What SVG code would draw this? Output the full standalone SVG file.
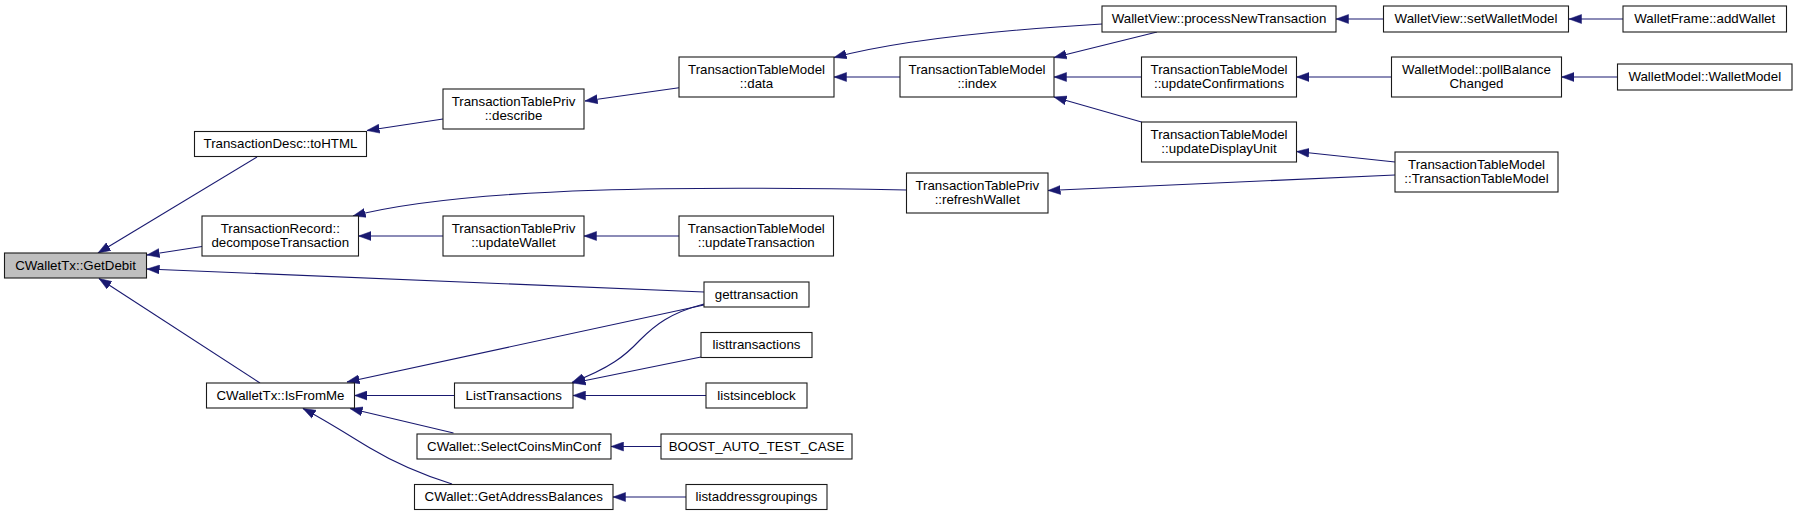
<svg xmlns="http://www.w3.org/2000/svg" width="1797" height="516" viewBox="0 0 1797 516">
<defs>
<style>
.n rect{fill:#fff;stroke:#1a1a1a;stroke-width:1.1}
.n.hl rect{fill:#bfbfbf}
.n text{font-family:"Liberation Sans",Arial,sans-serif;font-size:13.3px;fill:#000;text-anchor:middle}
.e path{fill:none;stroke:#191970;stroke-width:1.1;marker-end:url(#ah)}
</style>
<marker id="ah" markerUnits="userSpaceOnUse" markerWidth="14" markerHeight="10" refX="12.5" refY="5" orient="auto">
<path d="M0,0.5 L12.5,5 L0,9.5 z" fill="#191970" stroke="#191970" stroke-width="0.5"/>
</marker>
</defs>
<rect width="1797" height="516" fill="#fff"/>
<g class="e" id="edges">
<path d="M257,157 L98,253"/>
<path d="M202,246.5 L147,255"/>
<path d="M704,292 L147,269"/>
<path d="M260,383 L99,278.5"/>
<path d="M443,119 L367,130.5"/>
<path d="M679,87.7 L585,101"/>
<path d="M1102,24 C1000,30 900,40 834,57.5"/>
<path d="M900,77 L834,77"/>
<path d="M1157,32 L1054,57.5"/>
<path d="M1141.5,77 L1054,77"/>
<path d="M1141.5,122 L1054,97"/>
<path d="M1383.5,19 L1336,19"/>
<path d="M1623,19 L1569,19"/>
<path d="M1391.5,77 L1296.5,77"/>
<path d="M1617.5,77 L1561.5,77"/>
<path d="M1395,162 L1296.5,151.5"/>
<path d="M1395,175 L1048,190.5"/>
<path d="M906.5,190 C700,186 470,186 353,216"/>
<path d="M443,236 L358.5,236"/>
<path d="M679,236 L584,236"/>
<path d="M704,305 L347,382"/>
<path d="M704,304 C670,313 655,325 640,340 C625,356 610,368 572,382.5"/>
<path d="M701,357 L573,383"/>
<path d="M706,395.5 L573,395.5"/>
<path d="M454.5,395.5 L354.5,395.5"/>
<path d="M453.5,433 L350,408.5"/>
<path d="M452,484 C420,474 395,463 370,448 C350,436 325,420 303,408.5"/>
<path d="M661,446.5 L611,446.5"/>
<path d="M686,497 L613,497"/>
</g>
<g class="n hl" id="GetDebit"><rect x="4.5" y="253" width="142" height="25"/><text x="75.5" y="269.5">CWalletTx::GetDebit</text></g>
<g class="n" id="toHTML"><rect x="194.5" y="131.5" width="172" height="25"/><text x="280.5" y="148">TransactionDesc::toHTML</text></g>
<g class="n" id="describe"><rect x="443" y="89" width="141" height="40"/><text x="513.5" y="105.5">TransactionTablePriv</text><text x="513.5" y="119.5">::describe</text></g>
<g class="n" id="decompose"><rect x="202" y="216" width="156.5" height="40"/><text x="280.25" y="232.5">TransactionRecord::</text><text x="280.25" y="246.5">decomposeTransaction</text></g>
<g class="n" id="updateWallet"><rect x="443" y="216" width="141" height="40"/><text x="513.5" y="232.5">TransactionTablePriv</text><text x="513.5" y="246.5">::updateWallet</text></g>
<g class="n" id="updateTransaction"><rect x="679" y="216" width="154.5" height="40"/><text x="756.25" y="232.5">TransactionTableModel</text><text x="756.25" y="246.5">::updateTransaction</text></g>
<g class="n" id="data"><rect x="679" y="57" width="155" height="40"/><text x="756.5" y="73.5">TransactionTableModel</text><text x="756.5" y="87.5">::data</text></g>
<g class="n" id="index"><rect x="900" y="57" width="154" height="40"/><text x="977" y="73.5">TransactionTableModel</text><text x="977" y="87.5">::index</text></g>
<g class="n" id="processNewTransaction"><rect x="1102" y="6" width="234" height="26"/><text x="1219" y="23">WalletView::processNewTransaction</text></g>
<g class="n" id="setWalletModel"><rect x="1383.5" y="6" width="185" height="26"/><text x="1476" y="23">WalletView::setWalletModel</text></g>
<g class="n" id="addWallet"><rect x="1623" y="6" width="163.5" height="26"/><text x="1704.75" y="23">WalletFrame::addWallet</text></g>
<g class="n" id="updateConfirmations"><rect x="1141.5" y="57" width="155" height="40"/><text x="1219" y="73.5">TransactionTableModel</text><text x="1219" y="87.5">::updateConfirmations</text></g>
<g class="n" id="updateDisplayUnit"><rect x="1141.5" y="122" width="155" height="40"/><text x="1219" y="138.5">TransactionTableModel</text><text x="1219" y="152.5">::updateDisplayUnit</text></g>
<g class="n" id="pollBalanceChanged"><rect x="1391.5" y="57" width="170" height="40"/><text x="1476.5" y="73.5">WalletModel::pollBalance</text><text x="1476.5" y="87.5">Changed</text></g>
<g class="n" id="WalletModelCtor"><rect x="1617.5" y="64" width="174.5" height="26"/><text x="1704.75" y="81">WalletModel::WalletModel</text></g>
<g class="n" id="TransactionTableModelCtor"><rect x="1395" y="152" width="163" height="40"/><text x="1476.5" y="168.5">TransactionTableModel</text><text x="1476.5" y="182.5">::TransactionTableModel</text></g>
<g class="n" id="refreshWallet"><rect x="906.5" y="173" width="141.5" height="40"/><text x="977.25" y="189.5">TransactionTablePriv</text><text x="977.25" y="203.5">::refreshWallet</text></g>
<g class="n" id="gettransaction"><rect x="704" y="282" width="105" height="25"/><text x="756.5" y="298.5">gettransaction</text></g>
<g class="n" id="listtransactions"><rect x="701" y="332.5" width="111" height="25"/><text x="756.5" y="349">listtransactions</text></g>
<g class="n" id="listsinceblock"><rect x="706" y="383" width="101" height="25"/><text x="756.5" y="399.5">listsinceblock</text></g>
<g class="n" id="BOOST_AUTO_TEST_CASE"><rect x="661" y="434" width="191" height="25"/><text x="756.5" y="450.5">BOOST_AUTO_TEST_CASE</text></g>
<g class="n" id="listaddressgroupings"><rect x="686" y="484.5" width="141" height="25"/><text x="756.5" y="501">listaddressgroupings</text></g>
<g class="n" id="IsFromMe"><rect x="206.5" y="383" width="148" height="25"/><text x="280.5" y="399.5">CWalletTx::IsFromMe</text></g>
<g class="n" id="ListTransactions"><rect x="454.5" y="383" width="118.5" height="25"/><text x="513.75" y="399.5">ListTransactions</text></g>
<g class="n" id="SelectCoinsMinConf"><rect x="417" y="434" width="194" height="25"/><text x="514" y="450.5">CWallet::SelectCoinsMinConf</text></g>
<g class="n" id="GetAddressBalances"><rect x="414.5" y="484.5" width="198.5" height="25"/><text x="513.75" y="501">CWallet::GetAddressBalances</text></g>
</svg>
